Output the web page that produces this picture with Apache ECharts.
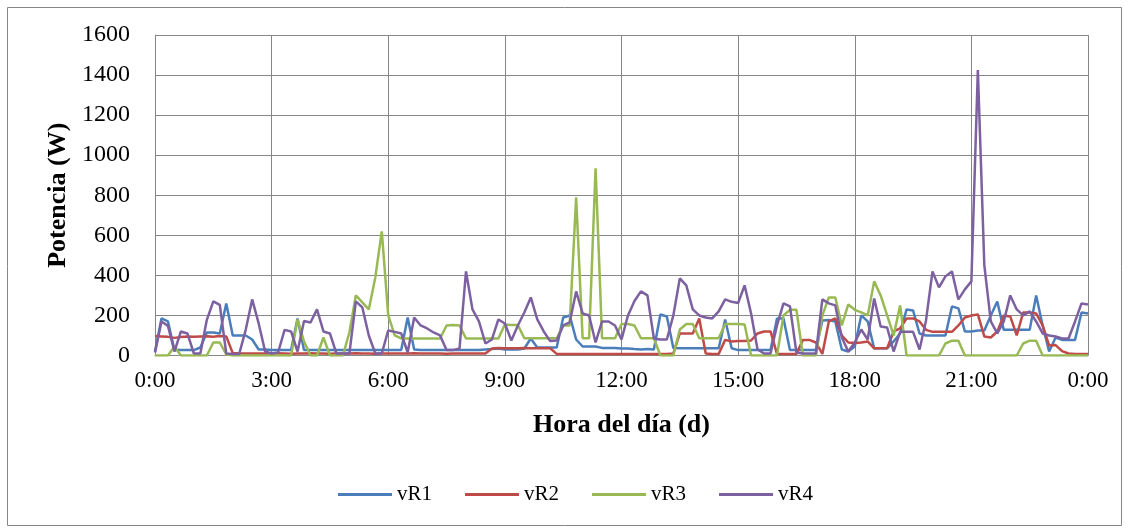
<!DOCTYPE html>
<html>
<head>
<meta charset="utf-8">
<script src="https://cdn.jsdelivr.net/npm/echarts@6/dist/echarts.min.js"></script>
<style>
html,body{margin:0;padding:0;background:#fff;}
#chart{width:1131px;height:531px;}
</style>
</head>
<body>
<div id="chart"></div>
<script>
// sample step: 10 minutes, from 0:00 to 24:00 (145 samples)
const stepMinutes = 10;
const seriesNames = ['vR1', 'vR2', 'vR3', 'vR4'];
const xTicks = ['0:00','3:00','6:00','9:00','12:00','15:00','18:00','21:00','0:00'];

const vR1 = [20,185,170,27,27,27,27,40,115,115,110,260,100,100,100,80,30,30,
  28,28,28,28,185,28,28,28,28,28,28,28,28,28,28,28,28,28,
  27,27,27,190,30,27,27,27,27,27,27,27,28,28,28,30,32,35,
  30,30,30,35,85,40,40,40,40,190,200,80,45,45,45,38,38,38,
  35,35,32,30,32,30,205,195,38,36,36,36,36,36,36,36,180,36,
  27,27,27,27,27,27,185,185,27,27,27,27,27,175,177,170,30,20,
  45,200,170,35,36,36,70,110,230,225,110,100,100,100,100,245,235,120,
  120,125,125,200,270,128,128,128,128,128,300,150,20,90,78,78,78,215,210];

const vR2 = [97,95,93,88,92,95,93,95,96,94,97,95,12,10,10,10,10,10,
  10,11,10,9,10,10,11,10,10,9,10,10,10,11,10,10,9,10,
  10,10,10,10,11,10,10,10,10,9,10,10,10,10,10,10,35,38,
  36,36,36,37,36,36,36,36,8,8,8,8,8,8,8,8,8,8,
  8,8,8,8,8,8,8,8,10,110,110,110,185,10,8,8,78,70,
  72,72,75,110,120,120,8,8,8,8,78,78,65,8,170,185,100,65,
  62,65,70,36,36,36,120,135,185,185,170,128,118,118,118,118,150,190,
  200,205,95,90,120,200,195,100,215,215,210,150,50,52,22,10,8,8,8];

const vR3 = [0,0,0,45,0,0,0,0,0,65,65,5,0,0,0,0,0,0,
  0,0,0,0,180,70,0,0,90,0,0,0,115,300,265,230,390,620,
  200,100,85,85,85,85,85,85,85,150,152,150,85,85,85,85,85,85,
  155,152,152,86,86,86,86,86,86,150,150,790,86,86,935,86,86,86,
  157,157,150,86,86,86,0,0,0,130,157,157,86,86,86,86,157,157,
  157,155,0,0,0,0,0,200,228,228,0,0,0,200,290,290,150,255,
  228,215,200,370,300,200,100,250,0,0,0,0,0,0,60,74,74,0,
  0,0,0,0,0,0,0,0,60,74,74,0,0,0,0,0,0,0,0];

const vR4 = [15,170,148,20,120,110,10,10,178,270,253,10,8,8,128,280,160,20,
  10,15,128,120,20,172,165,230,120,110,10,10,10,270,240,100,10,10,
  125,118,110,15,190,150,135,115,100,27,27,35,420,230,170,60,80,180,
  160,75,150,215,290,180,120,72,75,150,165,320,210,200,65,170,170,150,
  80,200,272,320,300,85,80,80,200,385,350,230,200,190,185,220,280,268,
  262,350,210,30,10,10,150,260,245,15,10,10,10,280,260,250,90,20,
  65,130,80,285,145,140,20,118,118,118,30,175,420,340,395,420,280,330,
  370,1425,450,170,110,170,300,230,200,220,170,110,100,95,85,85,170,260,255];

const colors = ['#4A7EBB', '#BE4B48', '#98B954', '#7D60A0'];
const allData = [vR1, vR2, vR3, vR4];

const toPairs = arr => arr.map((v, i) => [i * stepMinutes / 60, v]);

const chart = echarts.init(document.getElementById('chart'), null, {renderer: 'canvas'});
const font = '"Liberation Serif", "Times New Roman", serif';

chart.setOption({
  animation: false,
  backgroundColor: '#fff',
  textStyle: {fontFamily: font},
  graphic: [{
    type: 'rect',
    shape: {x: 7.5, y: 7.5, width: 1114, height: 518},
    style: {fill: 'none', stroke: '#868686', lineWidth: 1},
    silent: true, z: -1
  }],
  grid: {left: 155, top: 35, width: 933, height: 320.5, containLabel: false},
  xAxis: {
    type: 'value', min: 0, max: 24, interval: 3,
    name: 'Hora del día (d)', nameLocation: 'middle', nameGap: 57,
    nameTextStyle: {fontFamily: font, fontSize: 26, fontWeight: 'bold', color: '#000'},
    axisLine: {show: true, lineStyle: {color: '#868686', width: 1}},
    axisTick: {show: false},
    axisLabel: {
      fontFamily: font, fontSize: 23, color: '#000', margin: 14,
      formatter: v => xTicks[Math.round(v / 3)]
    },
    splitLine: {show: true, lineStyle: {color: '#868686', width: 1}}
  },
  yAxis: {
    type: 'value', min: 0, max: 1600, interval: 200,
    name: 'Potencia (W)', nameLocation: 'middle', nameGap: 84, nameRotate: 90,
    nameTextStyle: {fontFamily: font, fontSize: 26, fontWeight: 'bold', color: '#000'},
    axisLine: {show: true, lineStyle: {color: '#868686', width: 1}},
    axisTick: {show: false},
    axisLabel: {fontFamily: font, fontSize: 24, color: '#000', margin: 25,
      formatter: v => String(v)},
    splitLine: {show: true, lineStyle: {color: '#868686', width: 1}}
  },
  legend: {
    data: seriesNames,
    left: 338, top: 484, padding: 0,
    icon: 'rect', itemWidth: 54, itemHeight: 3, itemGap: 33,
    textStyle: {fontFamily: font, fontSize: 21, color: '#000', padding: [0,0,0,0]}
  },
  series: seriesNames.map((name, k) => ({
    name: name,
    type: 'line',
    data: toPairs(allData[k]),
    showSymbol: false,
    symbol: 'none',
    color: colors[k],
    lineStyle: {color: colors[k], width: 2.5},
    z: 2 + k
  }))
});
</script>
</body>
</html>
